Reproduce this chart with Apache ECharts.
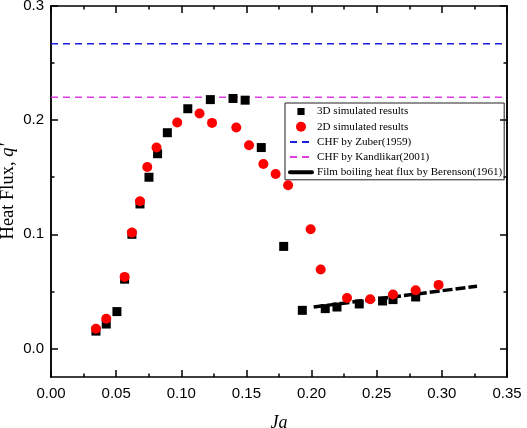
<!DOCTYPE html>
<html><head><meta charset="utf-8">
<script src="https://cdn.jsdelivr.net/npm/echarts@6/dist/echarts.min.js"></script>
<style>html,body{margin:0;padding:0;background:#fff}#c{width:527px;height:428px}</style>
</head><body><div id="c"></div>
<script>
// ---- data ----
const sim3dJa = [0.0345,0.0424,0.0506,0.0565,0.0621,0.0683,0.0752,0.0818,0.0893,0.105,0.1223,0.1397,0.149,0.1614,0.1786,0.1929,0.2105,0.2195,0.2366,0.2545,0.2625,0.2799];
const sim3dQ  = [0.0152,0.0214,0.0323,0.0607,0.100,0.1266,0.150,0.1706,0.189,0.210,0.218,0.219,0.2175,0.176,0.0894,0.0334,0.0349,0.0363,0.039,0.0416,0.0428,0.0451];
const sim2dJa = [0.0345,0.0424,0.0565,0.0621,0.0683,0.0739,0.081,0.0969,0.114,0.1236,0.1422,0.152,0.163,0.1724,0.182,0.1993,0.207,0.2272,0.245,0.2625,0.2799,0.2975];
const sim2dQ  = [0.0173,0.026,0.0627,0.1015,0.129,0.159,0.176,0.198,0.2058,0.1976,0.1935,0.178,0.1616,0.1528,0.143,0.1044,0.0692,0.0442,0.0431,0.0472,0.051,0.0557];
const zuberJa = [0, 0.35];
const zuberQ = [0.267, 0.267];
const kandlikarJa = [0, 0.35];
const kandlikarQ = [0.220, 0.220];
const berensonJa = [0.2016, 0.327];
const berensonQ = [0.0363, 0.0545];
const seriesNames = ['3D simulated results','2D simulated results','CHF by Zuber(1959)','CHF by Kandlikar(2001)','Film boiling heat flux by Berenson(1961)'];
const yMajorTicks = [0, 0.1, 0.2, 0.3];
const yMinorTicks = [0.05, 0.15, 0.25];
const xMin = 0, xMax = 0.35, xStep = 0.05;
const yMin = -0.025, yMax = 0.3;

const pair = (xs, ys) => xs.map((x, i) => [x, ys[i]]);
const gridRect = {left: 51, right: 20, top: 6, bottom: 51, outerBoundsMode: 'none', containLabel: false};
const black = '#000';
const lineW = 1.5;
const sans = 'Arial, "Liberation Sans", Helvetica, sans-serif';
const serif = '"Times New Roman", "Liberation Serif", Times, serif';
const clear = 'rgba(0,0,0,0)';

const xBase = (pos, showLabel) => ({
  type: 'value', gridIndex: 0, position: pos, min: xMin, max: xMax, interval: xStep,
  axisLine: {show: true, onZero: false, lineStyle: {color: black, width: lineW}},
  axisTick: {show: true, inside: true, length: 7, lineStyle: {color: black, width: lineW}},
  minorTick: {show: true, splitNumber: 2, length: 3.5, lineStyle: {color: black, width: lineW}},
  splitLine: {show: false},
  axisLabel: {show: showLabel, color: black, fontFamily: sans, fontSize: 15, margin: 9,
    formatter: v => v.toFixed(2)}
});
const yBase = (gi, pos, ticks, len, labels) => ({
  type: 'value', gridIndex: gi, position: pos, min: yMin, max: yMax,
  axisLine: {show: true, onZero: false, lineStyle: {color: black, width: lineW}},
  axisTick: {show: true, inside: true, length: len, customValues: ticks, lineStyle: {color: black, width: lineW}},
  splitLine: {show: false},
  axisLabel: labels ? {show: true, customValues: yMajorTicks, color: black, fontFamily: sans, fontSize: 15, margin: 7,
    formatter: v => v.toFixed(1)} : {show: false}
});

const xBottom = xBase('bottom', true);
xBottom.name = 'Ja';
xBottom.nameLocation = 'middle';
xBottom.nameGap = 37;
xBottom.nameMoveOverlap = false;
xBottom.nameTextStyle = {fontFamily: serif, fontStyle: 'italic', fontSize: 18, color: black};

const yLeft = yBase(0, 'left', yMajorTicks, 7, true);
yLeft.name = 'Heat Flux, {i|q\'}';
yLeft.nameLocation = 'middle';
yLeft.nameGap = 33;
yLeft.nameMoveOverlap = false;
yLeft.nameTextStyle = {fontFamily: serif, fontSize: 18.5, color: black,
  rich: {i: {fontFamily: serif, fontStyle: 'italic', fontSize: 18.5, color: black}}};

const option = {
  animation: false,
  backgroundColor: '#fff',
  grid: [Object.assign({}, gridRect), Object.assign({}, gridRect)],
  xAxis: [
    xBottom,
    xBase('top', false),
    {type: 'value', gridIndex: 1, min: xMin, max: xMax, show: false}
  ],
  yAxis: [
    yLeft,
    yBase(0, 'right', yMajorTicks, 7, false),
    yBase(1, 'left', yMinorTicks, 3.5, false),
    yBase(1, 'right', yMinorTicks, 3.5, false)
  ],
  legend: {
    data: [
      {name: seriesNames[0], icon: 'path://M-0.2,-0.2L-0.2,-0.2ZM0,0L1,0L1,1L0,1ZM1.2,1.2L1.2,1.2Z'},
      {name: seriesNames[1]},
      {name: seriesNames[2]},
      {name: seriesNames[3]},
      {name: seriesNames[4], lineStyle: {type: 'solid', width: 4, cap: 'round'}}
    ],
    symbolKeepAspect: true,
    orient: 'vertical', left: 285, top: 103,
    itemWidth: 22, itemHeight: 10, itemGap: 4.2,
    padding: [3, 2, 2, 3],
    borderColor: '#222', borderWidth: 1,
    textStyle: {fontFamily: serif, fontSize: 11.1, color: black, lineHeight: 10}
  },
  series: [
    {name: seriesNames[0], type: 'scatter', xAxisIndex: 0, yAxisIndex: 0, data: pair(sim3dJa, sim3dQ),
      symbol: 'rect', symbolSize: 9, itemStyle: {color: black, opacity: 1}, z: 3},
    {name: seriesNames[1], type: 'scatter', xAxisIndex: 0, yAxisIndex: 0, data: pair(sim2dJa, sim2dQ),
      symbol: 'circle', symbolSize: 10, itemStyle: {color: '#ff0000', opacity: 1}, z: 4},
    {name: seriesNames[2], type: 'line', xAxisIndex: 0, yAxisIndex: 0, data: pair(zuberJa, zuberQ),
      symbol: 'none', lineStyle: {color: '#1e1ee0', width: 1.5, type: [7, 5]}, itemStyle: {color: clear, borderWidth: 0}, z: 2},
    {name: seriesNames[3], type: 'line', xAxisIndex: 0, yAxisIndex: 0, data: pair(kandlikarJa, kandlikarQ),
      symbol: 'none', lineStyle: {color: '#e03ce0', width: 1.5, type: [7, 5]}, itemStyle: {color: clear, borderWidth: 0}, z: 2},
    {name: seriesNames[4], type: 'line', xAxisIndex: 0, yAxisIndex: 0, data: pair(berensonJa, berensonQ),
      symbol: 'none', lineStyle: {color: black, width: 3.5, type: [10, 3]}, itemStyle: {color: clear, borderWidth: 0}, z: 2}
  ]
};
const chart = echarts.init(document.getElementById('c'), null, {renderer: 'canvas'});
chart.setOption(option);
</script>
</body></html>
